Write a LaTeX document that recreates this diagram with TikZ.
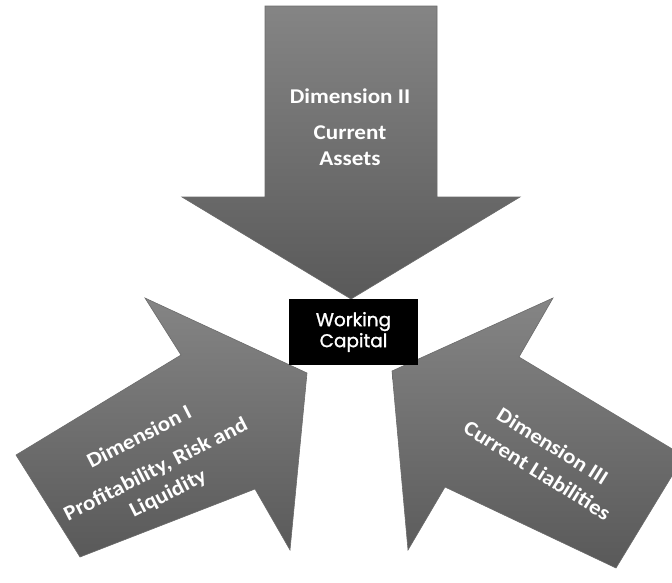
\documentclass[tikz,border=0pt]{standalone}
\usepackage{fontspec}
\usepackage{tikz}
\usetikzlibrary{positioning}
\newfontfamily\dimfont[FakeStretch=1.1]{Carlito}
\newfontfamily\hubfont[FakeBold=1.3]{Poppins}

\begin{document}
\begin{tikzpicture}[
    x=1pt, y=-1pt,
    blockarrow/.style={top color=black!48, bottom color=black!65, draw=black!58, line width=0.6pt, line join=miter},
    dimlabel/.style={text=white, align=center, inner sep=0pt, font={\dimfont\bfseries\fontsize{21}{26}\selectfont}},
    hub/.style={fill=black, text=white, align=center, minimum width=129pt, minimum height=66pt, inner sep=0pt, font={\hubfont\fontsize{18.5}{21}\selectfont}}
]
\useasboundingbox (0,0) rectangle (672,582);
\clip (0,0) rectangle (672,582);
% three block arrows
\draw[blockarrow] (265,6) -- (437,6) -- (437,197) -- (520,197) -- (351,299) -- (182,197) -- (265,197) -- cycle;
\draw[blockarrow] (307,373) -- (145,298) -- (181,355) -- (16,455) -- (80,557) -- (255,489) -- (290,550) -- cycle;
\draw[blockarrow] (392,371) -- (553,298) -- (519,357) -- (684,456) -- (616,568) -- (445,487) -- (408,550) -- cycle;
% centre box
\node[hub] (wc) at (353.5,332) {Working\\Capital};
% labels
\node[dimlabel] (assets) at (350,127) {Dimension II\\[10pt]Current\\Assets};
\node[dimlabel, rotate=27] (profit) at (154,466) {Dimension I\\[10pt]Profitability, Risk and\\[1pt]Liquidity};
\node[dimlabel, rotate=-32] (liab) at (545,458) {Dimension III\\[3pt]Current Liabilities};
\end{tikzpicture}
\end{document}
